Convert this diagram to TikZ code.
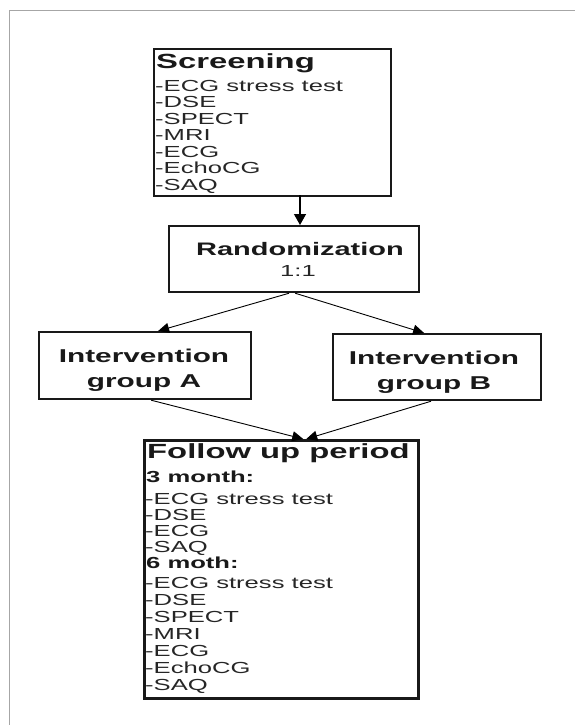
\documentclass[tikz,border=0pt]{standalone}
\usepackage{fontspec}
\newfontfamily\wf{Liberation Sans}[FakeStretch=1.6]
\usetikzlibrary{arrows.meta}
\begin{document}
\begin{tikzpicture}[x=1pt,y=-1pt,
  box/.style={draw=black!90, line width=2.2pt, anchor=north west, inner sep=0pt},
  itm/.style={anchor=base west, inner sep=0pt, font=\wf\fontsize{16}{16}\selectfont, text=black!85},
  hd/.style={anchor=base west, inner sep=0pt, font=\wf\bfseries\fontsize{16}{16}\selectfont, text=black!90},
  ttl/.style={inner sep=0pt, font=\wf\bfseries\fontsize{20.5}{21}\selectfont, text=black!90},
  gttl/.style={anchor=base, inner sep=0pt, font=\wf\bfseries\fontsize{18.6}{20}\selectfont, text=black!90},
  vconn/.style={line width=1.3pt, -{Triangle[length=11pt,width=12pt]}},
  conn/.style={line width=0.9pt, -{Triangle[length=11pt,width=10pt]}}]
\useasboundingbox (0,0) rectangle (575,725);
% outer frame
\draw[black!35, line width=1.5pt] (575,10.5) -- (9.5,10.5) -- (9.5,725);

% boxes
\node[box, minimum width=237pt, minimum height=147pt] (scr) at (153,48) {};
\node[box, minimum width=250pt, minimum height=66pt] (rnd) at (168,225) {};
\node[box, minimum width=212pt, minimum height=67pt] (ga) at (38,331) {};
\node[box, minimum width=208pt, minimum height=66pt] (gb) at (332,333) {};
\node[box, minimum width=274pt, minimum height=258pt, line width=2.5pt] (fu) at (143,439) {};

% anchor points of the connectors
\coordinate (sbot) at (300,195);
\coordinate (rtop) at (300,225);

% screening text
\node[ttl, anchor=base west] (scrt) at (156,69) {Screening};
\foreach \t [count=\i from 0] in {-ECG stress test,-DSE,-SPECT,-MRI,-ECG,-EchoCG,-SAQ}
  \node[itm] (s\i) at (155,{91+16.5*\i}) {\t};

% randomization text
\node[ttl, anchor=base, font=\wf\bfseries\fontsize{18.1}{20}\selectfont] (rndt) at (300,255) {Randomization};
\node[itm, anchor=base, font=\wf\fontsize{16}{18}\selectfont] (rndr) at (298,276) {1:1};

% groups
\node[gttl] (ga1) at (144,362) {Intervention};
\node[gttl] (ga2) at (144,387) {group A};
\node[gttl] (gb1) at (434,364) {Intervention};
\node[gttl] (gb2) at (434,389) {group B};

% follow up
\node[ttl, anchor=base west] (fut) at (147,458) {Follow up period};
\node[hd] (h3) at (146,482) {3 month:};
\foreach \t [count=\i from 0] in {-ECG stress test,-DSE,-ECG,-SAQ}
  \node[itm] (a\i) at (145,{504+16*\i}) {\t};
\node[hd] (h6) at (146,568) {6 moth:};
\foreach \t [count=\i from 0] in {-ECG stress test,-DSE,-SPECT,-MRI,-ECG,-EchoCG,-SAQ}
  \node[itm] (b\i) at (145,{588+17*\i}) {\t};

% connectors
\draw[vconn] (sbot) -- (rtop);
\draw[conn] ([xshift=-5pt]rnd.south) -- ([xshift=13pt]ga.north);
\draw[conn] ([xshift=1pt]rnd.south) -- ([xshift=-13pt]gb.north);
\draw[conn] ([xshift=6pt]ga.south) -- ([xshift=22pt]fu.north);
\draw[conn] ([xshift=-6pt]gb.south) -- ([xshift=25pt]fu.north);
\end{tikzpicture}
\end{document}
